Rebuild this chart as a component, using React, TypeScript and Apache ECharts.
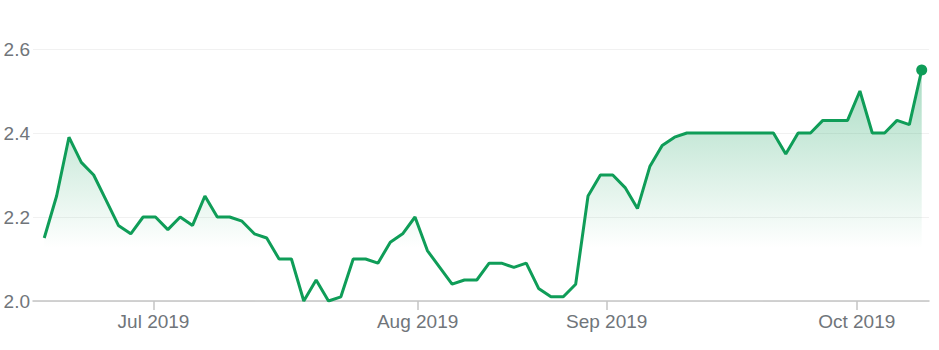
import React, { useEffect, useRef } from "react";
import * as echarts from "echarts";

// Series values, one per sample (x = sample index)
const values: number[] = [
  2.15, 2.25, 2.39, 2.33, 2.30, 2.24, 2.18, 2.16, 2.20, 2.20,
  2.17, 2.20, 2.18, 2.25, 2.20, 2.20, 2.19, 2.16, 2.15, 2.10,
  2.10, 2.00, 2.05, 2.00, 2.01, 2.10, 2.10, 2.09, 2.14, 2.16,
  2.20, 2.12, 2.08, 2.04, 2.05, 2.05, 2.09, 2.09, 2.08, 2.09,
  2.03, 2.01, 2.01, 2.04, 2.25, 2.30, 2.30, 2.27, 2.22, 2.32,
  2.37, 2.39, 2.40, 2.40, 2.40, 2.40, 2.40, 2.40, 2.40, 2.40,
  2.35, 2.40, 2.40, 2.43, 2.43, 2.43, 2.50, 2.40, 2.40, 2.43,
  2.42, 2.55,
];

// Month tick labels and where they fall along the sample index
const monthLabels: string[] = ["Jul 2019", "Aug 2019", "Sep 2019", "Oct 2019"];
const monthTickIndex: number[] = [8.84, 30.21, 45.51, 65.74];

const yTicks: number[] = [2.0, 2.2, 2.4, 2.6];

export default function App() {
  const ref = useRef<HTMLDivElement>(null);

  useEffect(() => {
    if (!ref.current) return;
    const chart = echarts.init(ref.current, undefined, { renderer: "svg" });
    const lineData = values.map((v, i) => [i, v]);
    const last = lineData[lineData.length - 1];
    const textColor = "#70757a";
    const font = "'Liberation Sans', Arial, sans-serif";

    chart.setOption({
      animation: false,
      grid: { left: 33, right: 10, top: 49, bottom: 49, containLabel: false },
      xAxis: {
        type: "value",
        min: -0.91,
        max: 71.59,
        splitLine: { show: false },
        axisLine: { show: true, lineStyle: { color: "#c4c4c4", width: 1.5 } },
        axisTick: {
          show: true,
          customValues: monthTickIndex,
          length: 9,
          lineStyle: { color: "#c4c4c4", width: 1.5 },
        },
        axisLabel: {
          customValues: monthTickIndex,
          color: textColor,
          fontSize: 19,
          fontFamily: font,
          margin: 11,
          formatter: (v: number) => {
            const k = monthTickIndex.findIndex((t) => Math.abs(t - v) < 1e-6);
            return k >= 0 ? monthLabels[k] : "";
          },
        },
      },
      yAxis: {
        type: "value",
        min: yTicks[0],
        max: yTicks[yTicks.length - 1],
        interval: 0.2,
        axisLine: { show: false },
        axisTick: { show: false },
        splitLine: { show: true, lineStyle: { color: "#f1f1f1", width: 1 } },
        axisLabel: {
          color: textColor,
          fontSize: 19,
          fontFamily: font,
          margin: 3,
          formatter: (v: number) => v.toFixed(1),
        },
      },
      series: [
        {
          type: "line",
          data: lineData,
          showSymbol: false,
          symbol: "none",
          lineStyle: { color: "#0f9d58", width: 3 },
          itemStyle: { color: "#0f9d58" },
          areaStyle: {
            opacity: 1,
            color: new echarts.graphic.LinearGradient(0, 0, 0, 1, [
              { offset: 0, color: "rgba(15,157,88,0.36)" },
              { offset: 0.77, color: "rgba(15,157,88,0)" },
              { offset: 1, color: "rgba(15,157,88,0)" },
            ]),
          },
          z: 2,
        },
        {
          type: "scatter",
          data: [last],
          symbol: "circle",
          symbolSize: 11,
          itemStyle: { color: "#0f9d58", opacity: 1 },
          z: 3,
        },
      ],
    });

    return () => chart.dispose();
  }, []);

  return (
    <div
      ref={ref}
      style={{ width: 939, height: 350, position: "absolute", left: 0, top: 0 }}
    />
  );
}
